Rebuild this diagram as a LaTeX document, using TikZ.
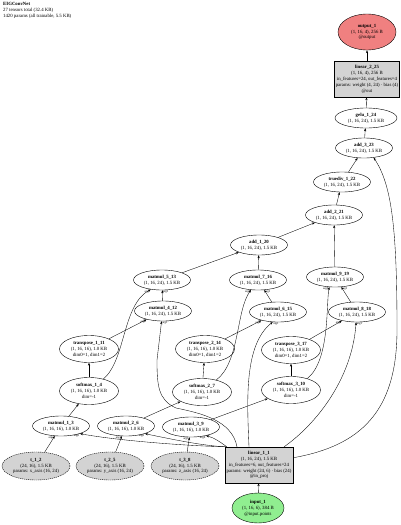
\documentclass[tikz,border=0pt]{standalone}
\usepackage{fontspec}
\setmainfont{Liberation Serif}
\usepackage{xcolor}
\usepackage{tikz}
\usetikzlibrary{arrows.meta,positioning,shapes.geometric}

\definecolor{outred}{HTML}{F08080}
\definecolor{ingreen}{HTML}{90EE90}
\definecolor{modgray}{HTML}{D3D3D3}

\begin{document}
\begin{tikzpicture}[x=1pt, y=-1pt,
        every node/.style={font=\fontsize{4.8}{5.9}\selectfont},
        op/.style={ellipse, draw, line width=0.4pt, inner sep=0pt,
                   minimum width=57pt, minimum height=20pt, align=center},
        op3/.style={op, minimum width=59pt, minimum height=27pt},
        param/.style={op, fill=modgray, dash pattern=on 1.2pt off 0.8pt,
                      minimum width=68pt, minimum height=28pt},
        module/.style={rectangle, draw, fill=modgray, line width=0.4pt,
                       inner sep=1.5pt, minimum height=36pt, align=center},
        arrow/.style={-{Stealth[length=3pt, width=2.2pt]}, line width=0.35pt},
        arg/.style={font=\fontsize{3}{3}\selectfont, inner sep=0.4pt}
    ]
        \useasboundingbox (0,0) rectangle (400,525);
        \node[anchor=north west, align=left, inner sep=0pt] (title) at (3,2)
            {\textbf{EIGConvNet}\\27 tensors total (32.4 KB)\\1420 params (all trainable, 5.5 KB)};

        % output side
        \node[op, fill=outred, minimum width=58pt, minimum height=36pt] (output1) at (367,32)
            {\textbf{output\_1}\\(1, 16, 4), 256 B\\@output};
        \node[module] (linear225) at (367,79)
            {\textbf{linear\_2\_25}\\(1, 16, 4), 256 B\\in\_features=24, out\_features=4\\params: weight (4, 24) · bias (4)\\@out};
        \node[op, minimum width=62pt] (gelu124) at (366,118) {\textbf{gelu\_1\_24}\\(1, 16, 24), 1.5 KB};
        \node[op] (add323) at (364,148) {\textbf{add\_3\_23}\\(1, 16, 24), 1.5 KB};
        \node[op] (truediv122) at (342,182) {\textbf{truediv\_1\_22}\\(1, 16, 24), 1.5 KB};
        \node[op] (add221) at (334,215) {\textbf{add\_2\_21}\\(1, 16, 24), 1.5 KB};
        \node[op] (add120) at (259,245) {\textbf{add\_1\_20}\\(1, 16, 24), 1.5 KB};

        % attention heads
        \node[op] (matmul513) at (162,280) {\textbf{matmul\_5\_13}\\(1, 16, 24), 1.5 KB};
        \node[op] (matmul716) at (258,280) {\textbf{matmul\_7\_16}\\(1, 16, 24), 1.5 KB};
        \node[op] (matmul919) at (335,277) {\textbf{matmul\_9\_19}\\(1, 16, 24), 1.5 KB};
        \node[op] (matmul412) at (163,311) {\textbf{matmul\_4\_12}\\(1, 16, 24), 1.5 KB};
        \node[op] (matmul615) at (278,312) {\textbf{matmul\_6\_15}\\(1, 16, 24), 1.5 KB};
        \node[op] (matmul818) at (357,312) {\textbf{matmul\_8\_18}\\(1, 16, 24), 1.5 KB};
        \node[op3] (transpose111) at (89,349) {\textbf{transpose\_1\_11}\\(1, 16, 16), 1.0 KB\\dim0=1, dim1=2};
        \node[op3] (transpose214) at (205,349) {\textbf{transpose\_2\_14}\\(1, 16, 16), 1.0 KB\\dim0=1, dim1=2};
        \node[op3] (transpose317) at (291,350) {\textbf{transpose\_3\_17}\\(1, 16, 16), 1.0 KB\\dim0=1, dim1=2};
        \node[op3] (softmax14) at (89,391) {\textbf{softmax\_1\_4}\\(1, 16, 16), 1.0 KB\\dim=-1};
        \node[op3] (softmax27) at (202,392) {\textbf{softmax\_2\_7}\\(1, 16, 16), 1.0 KB\\dim=-1};
        \node[op3] (softmax310) at (291,390) {\textbf{softmax\_3\_10}\\(1, 16, 16), 1.0 KB\\dim=-1};
        \node[op] (matmul13) at (61,426) {\textbf{matmul\_1\_3}\\(1, 16, 16), 1.0 KB};
        \node[op] (matmul26) at (126,426) {\textbf{matmul\_2\_6}\\(1, 16, 16), 1.0 KB};
        \node[op] (matmul39) at (191,427) {\textbf{matmul\_3\_9}\\(1, 16, 16), 1.0 KB};

        % params and input
        \node[param] (t12) at (36,466) {\textbf{t\_1\_2}\\(24, 16), 1.5 KB\\params: x\_axis (16, 24)};
        \node[param] (t25) at (110,466) {\textbf{t\_2\_5}\\(24, 16), 1.5 KB\\params: y\_axis (16, 24)};
        \node[param] (t38) at (185,466) {\textbf{t\_3\_8}\\(24, 16), 1.5 KB\\params: z\_axis (16, 24)};
        \node[module] (linear11) at (259,465)
            {\textbf{linear\_1\_1}\\(1, 16, 24), 1.5 KB\\in\_features=6, out\_features=24\\params: weight (24, 6) · bias (24)\\@in\_proj};
        \node[op, fill=ingreen, minimum width=52pt, minimum height=30pt] (input1) at (258,508)
            {\textbf{input\_1}\\(1, 16, 6), 384 B\\@input.points};

        % edges
        \draw[arrow] (input1) -- (linear11);
        \draw[arrow] ([xshift=1pt]linear11.north west) .. controls (190,446) and (120,441) .. (matmul13.-22)
            node[arg, at end, below left=0.3pt] {arg0};
        \draw[arrow] ([xshift=1pt]linear11.north west) .. controls (205,446) and (175,440) .. (matmul26.-22)
            node[arg, at end, below left=0.3pt] {arg0};
        \draw[arrow] ([xshift=2pt]linear11.north west) .. controls (220,442) and (215,438) .. (matmul39.-30)
            node[arg, at end, below left=0.3pt] {arg0};
        \draw[arrow] (t12) -- (matmul13) node[arg, at end, below left=0.3pt] {arg1};
        \draw[arrow] (t25) -- (matmul26) node[arg, at end, below left=0.3pt] {arg1};
        \draw[arrow] (t38) -- (matmul39) node[arg, at end, below left=0.3pt] {arg1};

        \draw[arrow] (matmul13) -- (softmax14);
        \draw[arrow] (matmul26) -- (softmax27);
        \draw[arrow] (matmul39) -- (softmax310);
        \draw[arrow] (softmax14) -- (transpose111);
        \draw[arrow] (softmax27) -- (transpose214);
        \draw[arrow] (softmax310) -- (transpose317);

        \draw[arrow] (transpose111) -- (matmul412) node[arg, at end, below left=0.3pt] {arg0};
        \draw[arrow] ([xshift=-22pt]linear11.north) .. controls (232,420) and (200,413) .. (176,408)
            .. controls (158,400) and (157,385) .. (157,360) -- (matmul412.-98)
            node[arg, at end, below right=0.3pt] {arg1};
        \draw[arrow] (transpose214) -- (matmul615) node[arg, at end, below left=0.3pt] {arg0};
        \draw[arrow] ([xshift=-10pt]linear11.north) .. controls (247,400) and (244,345) .. (matmul615.-118)
            node[arg, at end, below right=0.3pt] {arg1};
        \draw[arrow] (transpose317) -- (matmul818) node[arg, at end, below left=0.3pt] {arg0};
        \draw[arrow] ([xshift=-9pt]linear11.north east) .. controls (315,425) and (352,380) .. (matmul818.-95)
            node[arg, at end, below right=0.3pt] {arg1};

        \draw[arrow] (softmax14.40) .. controls (126,360) and (122,305) .. (matmul513.-140)
            node[arg, at end, below left=0.3pt] {arg0};
        \draw[arrow] (matmul412) -- (matmul513) node[arg, at end, below right=0.3pt] {arg1};
        \draw[arrow] (softmax27.40) .. controls (240,362) and (236,310) .. (matmul716.-125)
            node[arg, at end, below left=0.3pt] {arg0};
        \draw[arrow] (matmul615) -- (matmul716) node[arg, at end, below right=0.3pt] {arg1};
        \draw[arrow] (softmax310.35) .. controls (330,360) and (326,305) .. (matmul919.-120)
            node[arg, at end, below left=0.3pt] {arg0};
        \draw[arrow] (matmul818) -- (matmul919) node[arg, at end, below right=0.3pt] {arg1};

        \draw[arrow] (matmul513) -- (add120);
        \draw[arrow] (matmul716) -- (add120);
        \draw[arrow] (add120) -- (add221);
        \draw[arrow] (matmul919) -- (add221);
        \draw[arrow] (add221) -- (truediv122);
        \draw[arrow] (truediv122) -- (add323);
        \draw[arrow] (linear11.12) .. controls (360,446) and (397,412) .. (397,330)
            .. controls (397,230) and (392,185) .. (add323.-45);
        \draw[arrow] (add323) -- (gelu124);
        \draw[arrow] (gelu124) -- (linear225);
        \draw[arrow] (linear225) -- (output1);
    \end{tikzpicture}
\end{document}
